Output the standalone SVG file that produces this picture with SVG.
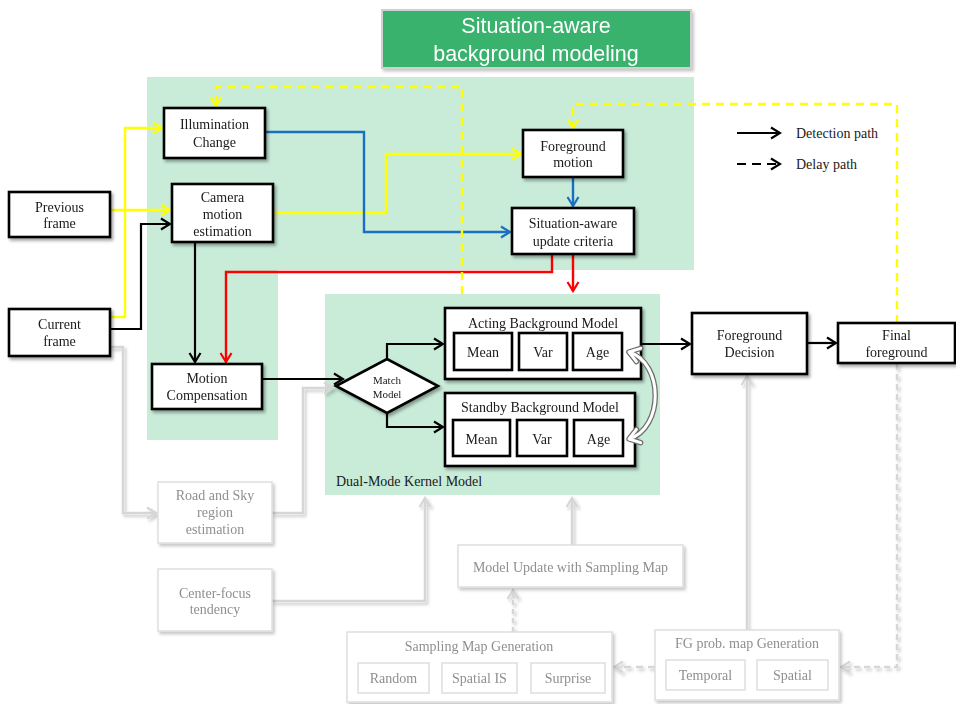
<svg xmlns="http://www.w3.org/2000/svg" width="956" height="704" viewBox="0 0 956 704">
  <style>
    .zone { fill: #c9ecd9; }
    .node { fill: #ffffff; stroke: #000000; stroke-width: 2.6; }
    .soft { fill: #ffffff; stroke: #dedede; stroke-width: 1.5; }
    .lbl { font-family: "Liberation Serif", "Times New Roman", serif; font-size: 14px; fill: #1a1a1a; text-anchor: middle; }
    .lbl-g { font-family: "Liberation Serif", "Times New Roman", serif; font-size: 14px; fill: #8f8f8f; text-anchor: middle; }
    .title { font-family: "Liberation Sans", Arial, sans-serif; font-size: 21.5px; fill: #ffffff; text-anchor: middle; }
    .c-k { fill: none; stroke: #000000; stroke-width: 2.2; }
    .c-y { fill: none; stroke: #ffff00; stroke-width: 2.4; }
    .c-b { fill: none; stroke: #1a6fc2; stroke-width: 2.4; }
    .c-r { fill: none; stroke: #ff0000; stroke-width: 2.4; }
    .c-g { fill: none; stroke: #d6d6d6; stroke-width: 2.5; }
  </style>
  <defs>
    <filter id="shadow" x="-10%" y="-10%" width="130%" height="140%">
      <feDropShadow dx="2" dy="2.5" stdDeviation="1.5" flood-color="#000" flood-opacity="0.35"/>
    </filter>
    <filter id="shadow-soft" x="-10%" y="-10%" width="130%" height="140%">
      <feDropShadow dx="2" dy="2.5" stdDeviation="1.5" flood-color="#000" flood-opacity="0.22"/>
    </filter>
    <marker id="ah-k" viewBox="-11 -7 13 14" refX="0" refY="0" markerWidth="13" markerHeight="14" markerUnits="userSpaceOnUse" orient="auto">
      <path d="M-9,-5.5 L0,0 L-9,5.5" fill="none" stroke="#000" stroke-width="2.2"/>
    </marker>
    <marker id="ah-y" viewBox="-11 -7 13 14" refX="0" refY="0" markerWidth="13" markerHeight="14" markerUnits="userSpaceOnUse" orient="auto">
      <path d="M-9,-5.5 L0,0 L-9,5.5" fill="none" stroke="#ffff00" stroke-width="2.2"/>
    </marker>
    <marker id="ah-b" viewBox="-11 -7 13 14" refX="0" refY="0" markerWidth="13" markerHeight="14" markerUnits="userSpaceOnUse" orient="auto">
      <path d="M-9,-5.5 L0,0 L-9,5.5" fill="none" stroke="#1a6fc2" stroke-width="2.2"/>
    </marker>
    <marker id="ah-r" viewBox="-11 -7 13 14" refX="0" refY="0" markerWidth="13" markerHeight="14" markerUnits="userSpaceOnUse" orient="auto">
      <path d="M-9,-5.5 L0,0 L-9,5.5" fill="none" stroke="#ff0000" stroke-width="2.2"/>
    </marker>
    <marker id="ah-g" viewBox="-11 -7 13 14" refX="0" refY="0" markerWidth="13" markerHeight="14" markerUnits="userSpaceOnUse" orient="auto">
      <path d="M-9,-5.5 L0,0 L-9,5.5" fill="none" stroke="#d6d6d6" stroke-width="2.2"/>
    </marker>
    <marker id="ah-wo" viewBox="-14 -10 18 20" refX="0" refY="0" markerWidth="18" markerHeight="20" markerUnits="userSpaceOnUse" orient="auto-start-reverse">
      <path d="M-10,-7 L0,0 L-10,7" fill="none" stroke="#6e6e6e" stroke-width="5.5" stroke-linejoin="round" stroke-linecap="round"/>
    </marker>
    <marker id="ah-w" viewBox="-14 -10 18 20" refX="0" refY="0" markerWidth="18" markerHeight="20" markerUnits="userSpaceOnUse" orient="auto-start-reverse">
      <path d="M-10,-7 L0,0 L-10,7" fill="none" stroke="#ffffff" stroke-width="3" stroke-linejoin="round" stroke-linecap="round"/>
    </marker>
  </defs>

  <rect width="956" height="704" fill="#ffffff"/>

  <!-- shaded zones -->
  <g id="zones">
    <path class="zone" d="M147,77 H694 V270 H278 V440 H147 Z"/>
    <rect class="zone" x="325" y="294" width="335" height="201"/>
  </g>

  <!-- title banner -->
  <g id="title" filter="url(#shadow-soft)">
    <rect x="382" y="10" width="309" height="58" fill="#38b26c" stroke="#d0d0d0" stroke-width="2"/>
    <text class="title" x="536" y="33">Situation-aware</text>
    <text class="title" x="536" y="61">background modeling</text>
  </g>

  <!-- connectors -->
  <g id="connectors">
    <!-- yellow -->
    <path class="c-y" d="M110,317 H125 V128 H162" marker-end="url(#ah-y)"/>
    <path class="c-y" d="M110,210 H170" marker-end="url(#ah-y)"/>
    <path class="c-y" d="M273,213 H386 V154 H521" marker-end="url(#ah-y)"/>
    <!-- black -->
    <path class="c-k" d="M110,329 H141 V224 H170" marker-end="url(#ah-k)"/>
    <path class="c-k" d="M195,242 V362" marker-end="url(#ah-k)"/>
    <path class="c-k" d="M262,379 H343" marker-end="url(#ah-k)"/>
    <path class="c-k" d="M387,359 V344 H443" marker-end="url(#ah-k)"/>
    <path class="c-k" d="M387,414 V427 H443" marker-end="url(#ah-k)"/>
    <path class="c-k" d="M641,344 H690" marker-end="url(#ah-k)"/>
    <path class="c-k" d="M807,343 H836" marker-end="url(#ah-k)"/>
    <!-- blue -->
    <path class="c-b" d="M265,132 H364 V232 H510" marker-end="url(#ah-b)"/>
    <path class="c-b" d="M573,177 V206" marker-end="url(#ah-b)"/>
    <!-- red -->
    <path class="c-r" d="M552,254 V272 H226 V362" marker-end="url(#ah-r)"/>
    <path class="c-r" d="M573,254 V291" marker-end="url(#ah-r)"/>
    <!-- yellow delay paths -->
    <path class="c-y" d="M462,294 V87 H216 V106" stroke-dasharray="8 6" marker-end="url(#ah-y)"/>
    <path class="c-y" d="M897,323 V104 H573 V128" stroke-dasharray="8 6" marker-end="url(#ah-y)"/>
    <!-- grey auxiliary paths -->
    <g filter="url(#shadow-soft)">
      <path class="c-g" d="M110,347 H123 V513 H156" marker-end="url(#ah-g)"/>
      <path class="c-g" d="M272,513 H303 V388 H333" marker-end="url(#ah-g)"/>
      <path class="c-g" d="M272,601 H425 V498" marker-end="url(#ah-g)"/>
      <path class="c-g" d="M572,545 V498" marker-end="url(#ah-g)"/>
      <path class="c-g" d="M513,632 V590" stroke-dasharray="5 4" marker-end="url(#ah-g)"/>
      <path class="c-g" d="M747,630 V376" marker-end="url(#ah-g)"/>
      <path class="c-g" d="M897,364 V667 H841" stroke-dasharray="6 4" marker-end="url(#ah-g)"/>
      <path class="c-g" d="M655,667 H614" stroke-dasharray="7 5" marker-end="url(#ah-g)"/>
    </g>
  </g>

  <!-- primary nodes -->
  <g id="previous-frame" filter="url(#shadow)">
    <rect class="node" x="9" y="192" width="101" height="45"/>
    <text class="lbl" x="59.5" y="212">Previous</text>
    <text class="lbl" x="59.5" y="228">frame</text>
  </g>
  <g id="current-frame" filter="url(#shadow)">
    <rect class="node" x="9" y="309" width="101" height="47"/>
    <text class="lbl" x="59.5" y="329">Current</text>
    <text class="lbl" x="59.5" y="346">frame</text>
  </g>
  <g id="illumination-change" filter="url(#shadow)">
    <rect class="node" x="164" y="108" width="101" height="50"/>
    <text class="lbl" x="214.5" y="129">Illumination</text>
    <text class="lbl" x="214.5" y="147">Change</text>
  </g>
  <g id="camera-motion" filter="url(#shadow)">
    <rect class="node" x="172" y="184" width="101" height="58"/>
    <text class="lbl" x="222.5" y="202">Camera</text>
    <text class="lbl" x="222.5" y="219">motion</text>
    <text class="lbl" x="222.5" y="236">estimation</text>
  </g>
  <g id="motion-compensation" filter="url(#shadow)">
    <rect class="node" x="152" y="364" width="110" height="45"/>
    <text class="lbl" x="207" y="383">Motion</text>
    <text class="lbl" x="207" y="400">Compensation</text>
  </g>
  <g id="foreground-motion" filter="url(#shadow)">
    <rect class="node" x="523" y="130" width="100" height="47"/>
    <text class="lbl" x="573" y="151">Foreground</text>
    <text class="lbl" x="573" y="167">motion</text>
  </g>
  <g id="update-criteria" filter="url(#shadow)">
    <rect class="node" x="512" y="208" width="122" height="46"/>
    <text class="lbl" x="573" y="228">Situation-aware</text>
    <text class="lbl" x="573" y="246">update criteria</text>
  </g>
  <g id="match-model" filter="url(#shadow)">
    <path class="node" d="M336,386 L387,359 L438,386 L387,413 Z"/>
    <text class="lbl" x="387" y="384" style="font-size:11px">Match</text>
    <text class="lbl" x="387" y="398" style="font-size:11px">Model</text>
  </g>
  <g id="acting-model" filter="url(#shadow)">
    <rect class="node" x="445" y="308" width="196" height="71"/>
    <text class="lbl" x="543" y="328">Acting Background Model</text>
    <rect class="node" x="454" y="333" width="58" height="37"/>
    <text class="lbl" x="483" y="357">Mean</text>
    <rect class="node" x="519" y="333" width="48" height="37"/>
    <text class="lbl" x="543" y="357">Var</text>
    <rect class="node" x="573" y="333" width="49" height="37"/>
    <text class="lbl" x="597.5" y="357">Age</text>
  </g>
  <g id="standby-model" filter="url(#shadow)">
    <rect class="node" x="445" y="393" width="190" height="73"/>
    <text class="lbl" x="540" y="412">Standby Background Model</text>
    <rect class="node" x="453" y="420" width="57" height="36"/>
    <text class="lbl" x="481.5" y="444">Mean</text>
    <rect class="node" x="517" y="420" width="50" height="36"/>
    <text class="lbl" x="542" y="444">Var</text>
    <rect class="node" x="574" y="420" width="49" height="36"/>
    <text class="lbl" x="598.5" y="444">Age</text>
  </g>
  <g id="dual-mode-label">
    <text class="lbl" x="336" y="486" style="text-anchor:start">Dual-Mode Kernel Model</text>
  </g>
  <g id="foreground-decision" filter="url(#shadow)">
    <rect class="node" x="692" y="313" width="115" height="61"/>
    <text class="lbl" x="749.5" y="340">Foreground</text>
    <text class="lbl" x="749.5" y="357">Decision</text>
  </g>
  <g id="final-foreground" filter="url(#shadow)">
    <rect class="node" x="838" y="323" width="117" height="40"/>
    <text class="lbl" x="896.5" y="340">Final</text>
    <text class="lbl" x="896.5" y="357">foreground</text>
  </g>

  <!-- age swap between acting and standby models, drawn above the boxes -->
  <g id="age-swap">
    <path d="M629,352 C664,363 664,428 629,439" fill="none" stroke="#6e6e6e" stroke-width="5.5" marker-start="url(#ah-wo)" marker-end="url(#ah-wo)"/>
    <path d="M629,352 C664,363 664,428 629,439" fill="none" stroke="#ffffff" stroke-width="3" marker-start="url(#ah-w)" marker-end="url(#ah-w)"/>
  </g>

  <!-- auxiliary (grey) nodes -->
  <g id="road-sky" filter="url(#shadow-soft)">
    <rect class="soft" x="158" y="482" width="114" height="61"/>
    <text class="lbl-g" x="215" y="500">Road and Sky</text>
    <text class="lbl-g" x="215" y="517">region</text>
    <text class="lbl-g" x="215" y="534">estimation</text>
  </g>
  <g id="center-focus" filter="url(#shadow-soft)">
    <rect class="soft" x="158" y="569" width="114" height="62"/>
    <text class="lbl-g" x="215" y="598">Center-focus</text>
    <text class="lbl-g" x="215" y="614">tendency</text>
  </g>
  <g id="model-update" filter="url(#shadow-soft)">
    <rect class="soft" x="458" y="545" width="225" height="42"/>
    <text class="lbl-g" x="570.5" y="572">Model Update with Sampling Map</text>
  </g>
  <g id="sampling-map" filter="url(#shadow-soft)">
    <rect class="soft" x="347" y="632" width="265" height="70"/>
    <text class="lbl-g" x="479" y="651">Sampling Map Generation</text>
    <rect class="soft" x="358" y="663" width="71" height="30"/>
    <text class="lbl-g" x="393.5" y="683">Random</text>
    <rect class="soft" x="442" y="663" width="75" height="30"/>
    <text class="lbl-g" x="479.5" y="683">Spatial IS</text>
    <rect class="soft" x="531" y="663" width="74" height="30"/>
    <text class="lbl-g" x="568" y="683">Surprise</text>
  </g>
  <g id="fg-prob-map" filter="url(#shadow-soft)">
    <rect class="soft" x="655" y="630" width="184" height="70"/>
    <text class="lbl-g" x="747" y="648">FG prob. map Generation</text>
    <rect class="soft" x="666" y="660" width="79" height="30"/>
    <text class="lbl-g" x="705.5" y="680">Temporal</text>
    <rect class="soft" x="757" y="660" width="71" height="30"/>
    <text class="lbl-g" x="792.5" y="680">Spatial</text>
  </g>

  <!-- legend -->
  <g id="legend">
    <path class="c-k" d="M737,133 H780" marker-end="url(#ah-k)"/>
    <text class="lbl" x="796" y="138" style="text-anchor:start">Detection path</text>
    <path class="c-k" d="M737,164 H780" stroke-dasharray="9 6" marker-end="url(#ah-k)"/>
    <text class="lbl" x="796" y="169" style="text-anchor:start">Delay path</text>
  </g>
</svg>
